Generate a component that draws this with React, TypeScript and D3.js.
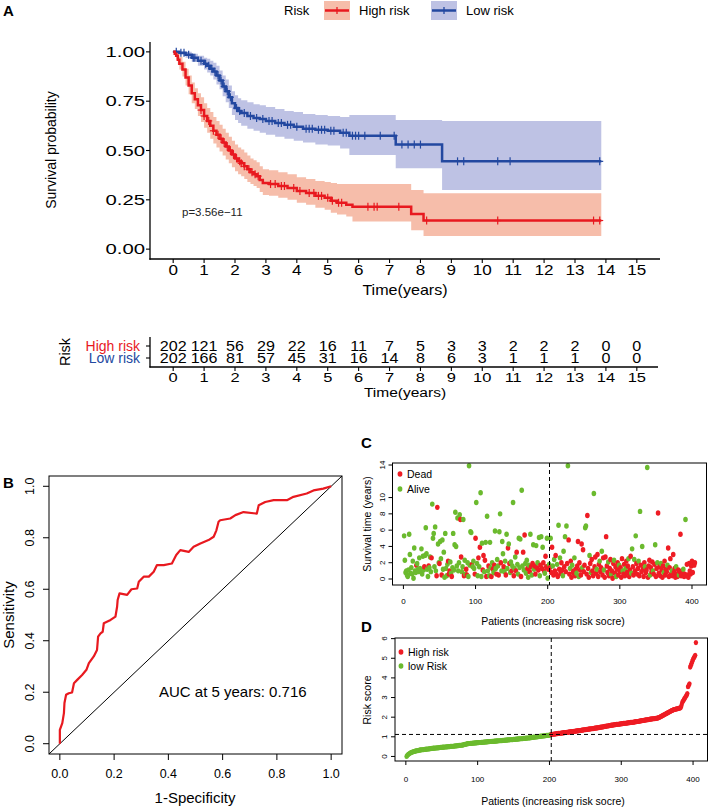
import React from 'react';
import * as d3 from 'd3';

const FONT = "'Liberation Sans', Arial, Helvetica, sans-serif";

// ---------- Panel A: Kaplan-Meier ----------
const yearTicks = [0, 1, 2, 3, 4, 5, 6, 7, 8, 9, 10, 11, 12, 13, 14, 15];
const survTicks = [0, 0.25, 0.5, 0.75, 1];
const survTickLabels = ['0.00', '0.25', '0.50', '0.75', '1.00'];

const highTime = [0, 0.05, 0.1, 0.15, 0.2, 0.3, 0.4, 0.5, 0.6, 0.7, 0.8, 0.9, 1.0, 1.1, 1.2, 1.3, 1.4, 1.5, 1.6, 1.7, 1.8, 1.9, 2.0, 2.1, 2.2, 2.3, 2.4, 2.5, 2.6, 2.7, 2.8, 2.9, 3.1, 3.4, 3.7, 4.0, 4.3, 4.6, 4.9, 5.1, 5.3, 5.6, 5.8, 7.7, 8.1, 13.85];
const highSurv = [1, 0.99, 0.98, 0.96, 0.94, 0.91, 0.87, 0.83, 0.79, 0.76, 0.73, 0.705, 0.675, 0.65, 0.625, 0.6, 0.58, 0.56, 0.54, 0.52, 0.5, 0.48, 0.46, 0.445, 0.435, 0.42, 0.405, 0.39, 0.38, 0.37, 0.35, 0.335, 0.33, 0.32, 0.31, 0.295, 0.285, 0.27, 0.26, 0.245, 0.235, 0.225, 0.215, 0.178, 0.145, 0.145];
const highLower = [1, 0.975, 0.96, 0.935, 0.91, 0.875, 0.83, 0.785, 0.74, 0.71, 0.675, 0.645, 0.615, 0.59, 0.56, 0.535, 0.515, 0.495, 0.475, 0.455, 0.435, 0.415, 0.395, 0.38, 0.37, 0.355, 0.34, 0.33, 0.32, 0.31, 0.29, 0.275, 0.27, 0.26, 0.25, 0.235, 0.225, 0.21, 0.2, 0.185, 0.175, 0.165, 0.14, 0.096, 0.066, 0.066];
const highUpper = [1, 1, 1, 0.99, 0.975, 0.95, 0.915, 0.88, 0.845, 0.815, 0.79, 0.77, 0.74, 0.715, 0.695, 0.67, 0.65, 0.63, 0.61, 0.59, 0.57, 0.55, 0.53, 0.515, 0.505, 0.49, 0.475, 0.46, 0.45, 0.44, 0.42, 0.405, 0.4, 0.39, 0.38, 0.365, 0.355, 0.345, 0.34, 0.335, 0.33, 0.33, 0.33, 0.3, 0.283, 0.283];
const highCensor = [0.9, 1.0, 1.15, 1.3, 1.45, 1.55, 1.65, 1.75, 1.85, 1.95, 2.05, 2.15, 2.2, 2.3, 2.45, 2.55, 2.65, 2.75, 3.15, 3.3, 3.5, 3.6, 3.9, 4.1, 4.4, 4.55, 4.7, 4.8, 5.0, 5.15, 5.35, 5.45, 6.3, 6.5, 6.6, 7.3, 8.2, 10.5, 13.6, 13.8];

const lowTime = [0, 0.2, 0.4, 0.6, 0.8, 1.0, 1.1, 1.2, 1.3, 1.4, 1.5, 1.6, 1.7, 1.8, 1.9, 2.0, 2.1, 2.2, 2.4, 2.6, 2.8, 3.0, 3.3, 3.6, 3.9, 4.2, 4.6, 5.0, 5.4, 5.7, 7.2, 8.7, 13.85];
const lowSurv = [1, 0.995, 0.985, 0.97, 0.955, 0.94, 0.93, 0.915, 0.9, 0.88, 0.855, 0.825, 0.8, 0.77, 0.74, 0.715, 0.7, 0.69, 0.675, 0.665, 0.66, 0.65, 0.64, 0.63, 0.62, 0.61, 0.605, 0.6, 0.59, 0.575, 0.53, 0.445, 0.445];
const lowLower = [1, 0.985, 0.97, 0.95, 0.93, 0.91, 0.895, 0.88, 0.86, 0.835, 0.81, 0.775, 0.745, 0.715, 0.68, 0.655, 0.64, 0.625, 0.61, 0.6, 0.59, 0.58, 0.57, 0.56, 0.55, 0.54, 0.53, 0.525, 0.51, 0.477, 0.41, 0.3, 0.3];
const lowUpper = [1, 1, 1, 0.99, 0.98, 0.97, 0.965, 0.955, 0.945, 0.93, 0.905, 0.88, 0.86, 0.83, 0.8, 0.78, 0.765, 0.755, 0.745, 0.735, 0.73, 0.72, 0.71, 0.7, 0.695, 0.685, 0.68, 0.675, 0.67, 0.68, 0.655, 0.65, 0.65];
const lowCensor = [0.1, 0.25, 0.35, 0.5, 0.65, 0.7, 0.9, 1.05, 1.15, 1.25, 1.35, 1.45, 1.55, 1.65, 1.75, 1.85, 2.05, 2.15, 2.3, 2.5, 2.7, 2.9, 3.1, 3.2, 3.4, 3.5, 3.7, 3.8, 4.0, 4.3, 4.4, 4.5, 4.7, 4.8, 4.9, 5.1, 5.2, 5.5, 5.6, 5.8, 5.9, 6.0, 6.2, 6.7, 7.15, 7.4, 7.6, 7.8, 8.0, 9.2, 9.4, 10.5, 10.9, 13.8];

const riskHigh = [202, 121, 56, 29, 22, 16, 11, 7, 5, 3, 3, 2, 2, 2, 0, 0];
const riskLow = [202, 166, 81, 57, 45, 31, 16, 14, 8, 6, 3, 1, 1, 1, 0, 0];

// ---------- Panel B: ROC ----------
const rocFpr = [0, 0, 0.009, 0.015, 0.017, 0.023, 0.033, 0.045, 0.052, 0.064, 0.082, 0.098, 0.107, 0.125, 0.137, 0.141, 0.15, 0.158, 0.162, 0.187, 0.205, 0.211, 0.213, 0.22, 0.248, 0.264, 0.285, 0.291, 0.309, 0.328, 0.346, 0.358, 0.383, 0.413, 0.429, 0.444, 0.475, 0.493, 0.518, 0.548, 0.567, 0.577, 0.585, 0.591, 0.628, 0.647, 0.677, 0.726, 0.733, 0.757, 0.788, 0.837, 0.861, 0.91, 0.935, 0.971, 1];
const rocTpr = [0, 0.054, 0.08, 0.119, 0.158, 0.19, 0.196, 0.199, 0.235, 0.248, 0.267, 0.287, 0.313, 0.339, 0.364, 0.416, 0.429, 0.435, 0.468, 0.481, 0.494, 0.532, 0.558, 0.584, 0.578, 0.6, 0.603, 0.629, 0.649, 0.649, 0.668, 0.694, 0.694, 0.7, 0.733, 0.752, 0.745, 0.765, 0.778, 0.791, 0.804, 0.829, 0.862, 0.868, 0.875, 0.888, 0.9, 0.894, 0.926, 0.939, 0.946, 0.946, 0.959, 0.972, 0.984, 0.991, 1];
const rocTicks = [0, 0.2, 0.4, 0.6, 0.8, 1.0];
const rocTickLabels = ['0.0', '0.2', '0.4', '0.6', '0.8', '1.0'];

// ---------- Panel C: survival time per patient ----------
const survTime = [
  5.3, 2.3, 0.8, 1.0, 0.5, 0.3, 1.1, 5.5, 3.0, 0.7,
  1.4, 0.6, 2.2, 0.1, 3.8, 1.0, 0.8, 1.7, 1.9, 1.2,
  0.9, 2.6, 1.3, 1.0, 3.7, 0.6, 2.8, 1.1, 1.5, 2.9,
  6.3, 3.1, 1.2, 0.3, 1.6, 1.4, 2.7, 0.9, 2.6, 9.2,
  5.0, 5.6, 1.5, 6.4, 1.0, 0.4, 8.8, 4.3, 2.0, 1.9,
  4.6, 2.5, 0.5, 4.8, 1.2, 3.3, 0.2, 5.6, 1.3, 0.4,
  1.8, 2.2, 0.6, 1.0, 2.1, 0.7, 0.3, 1.4, 5.6, 1.1,
  4.2, 8.2, 4.0, 1.6, 7.5, 1.0, 2.0, 7.9, 7.3, 2.7,
  0.9, 1.5, 7.3, 0.4, 2.3, 0.6, 1.2, 0.5, 2.0, 0.3,
  13.9, 1.7, 5.8, 5.7, 1.8, 1.5, 2.2, 1.3, 0.6, 5.0,
  9.4, 1.9, 0.4, 2.6, 1.5, 3.9, 10.6, 0.3, 4.4, 1.1,
  2.9, 0.9, 2.3, 4.5, 0.3, 7.7, 1.0, 1.6, 0.4, 4.5,
  1.4, 0.3, 2.0, 1.2, 0.8, 1.7, 5.9, 1.3, 0.6, 2.4,
  1.6, 0.5, 5.8, 8.0, 2.0, 1.0, 4.6, 3.1, 1.5, 0.9,
  2.2, 0.5, 5.5, 1.3, 3.8, 4.3, 1.9, 0.8, 2.1, 1.0,
  1.6, 9.4, 0.4, 1.3, 2.7, 1.0, 3.3, 1.8, 0.6, 5.0,
  1.4, 4.9, 0.3, 10.9, 1.6, 3.3, 1.1, 5.4, 1.9, 0.7,
  2.3, 1.3, 0.2, 1.7, 0.9, 5.5, 1.5, 0.5, 1.9, 4.2,
  1.2, 1.6, 0.6, 4.1, 1.4, 2.0, 1.1, 5.1, 0.4, 1.7,
  5.2, 1.3, 3.9, 2.0, 1.0, 0.7, 2.8, 1.5, 5.0, 0.1,
  1.2, 1.8,
  1.4, 5.0, 0.8, 3.9, 1.6, 0.5, 2.4, 1.0, 2.9, 0.6,
  1.8, 0.3, 6.6, 1.2, 2.6, 0.7, 2.0, 1.1, 0.4, 3.4,
  1.5, 5.2, 0.9, 6.5, 1.9, 13.9, 4.8, 0.6, 1.3, 2.2,
  0.2, 1.7, 0.8, 1.0, 2.6, 0.4, 1.2, 0.7, 1.6, 4.6,
  0.3, 2.0, 1.1, 0.5, 4.3, 1.4, 3.6, 0.9, 1.7, 6.3,
  6.5, 0.6, 7.8, 1.3, 0.2, 2.9, 1.9, 0.8, 2.4, 1.0,
  0.4, 10.5, 1.5, 2.7, 0.7, 1.2, 3.0, 0.3, 1.8, 2.2,
  0.9, 1.4, 3.4, 0.5, 2.6, 1.1, 0.2, 2.7, 5.2, 1.6,
  0.8, 2.1, 0.4, 1.3, 2.4, 0.6, 1.0, 0.1, 1.9, 2.3,
  0.7, 1.5, 0.3, 1.2, 2.0, 0.5, 1.7, 0.9, 1.4, 0.2,
  2.5, 1.0, 0.6, 1.8, 0.4, 1.3, 2.2, 0.8, 1.6, 2.5,
  0.3, 1.1, 2.8, 0.7, 3.7, 1.5, 0.5, 2.4, 1.0, 5.3,
  1.9, 0.6, 1.3, 2.2, 0.4, 8.3, 1.7, 0.9, 4.0, 1.2,
  0.3, 2.0, 1.5, 0.8, 1.1, 13.7, 0.2, 1.6, 2.3, 0.5,
  1.4, 0.9, 2.1, 1.0, 0.6, 1.8, 4.2, 0.3, 1.3, 2.0,
  8.1, 0.7, 1.5, 0.4, 1.9, 1.1, 0.2, 1.6, 0.8, 2.2,
  0.5, 1.2, 0.9, 1.7, 3.8, 0.3, 1.4, 2.5, 0.6, 1.0,
  0.4, 3.0, 0.8, 1.3, 0.2, 1.5, 0.6, 0.3, 1.1, 0.5,
  0.9, 5.5, 0.4, 1.0, 0.7, 1.2, 0.3, 0.6, 7.3, 0.4,
  1.8, 0.5, 0.2, 1.9, 1.0, 0.6, 1.6, 2.2, 0.8, 1.9,
  1.7, 2.0,
];
const deadStatus = [
  0, 0, 0, 0, 0, 0, 0, 0, 0, 0,
  0, 0, 0, 0, 0, 0, 0, 1, 0, 0,
  0, 0, 0, 0, 0, 0, 0, 0, 1, 0,
  0, 0, 0, 0, 1, 0, 0, 0, 1, 0,
  0, 0, 0, 0, 0, 1, 1, 0, 0, 1,
  0, 0, 1, 0, 0, 0, 0, 0, 0, 0,
  0, 1, 1, 1, 0, 0, 1, 0, 0, 0,
  0, 0, 0, 0, 0, 0, 0, 0, 1, 1,
  0, 0, 0, 1, 0, 0, 1, 1, 0, 0,
  0, 0, 0, 0, 1, 0, 0, 0, 1, 1,
  0, 0, 0, 1, 0, 1, 0, 0, 0, 1,
  1, 0, 1, 0, 1, 0, 0, 1, 0, 0,
  0, 1, 0, 1, 0, 1, 0, 0, 1, 0,
  0, 1, 0, 0, 1, 0, 0, 0, 1, 0,
  0, 1, 0, 0, 1, 0, 1, 0, 0, 1,
  0, 0, 1, 0, 0, 1, 1, 0, 0, 0,
  0, 0, 1, 0, 0, 1, 0, 1, 0, 0,
  0, 1, 0, 0, 1, 0, 1, 0, 1, 0,
  0, 1, 1, 0, 1, 0, 1, 0, 0, 1,
  0, 1, 0, 1, 1, 0, 1, 1, 0, 0,
  1, 0,
  1, 0, 1, 1, 0, 1, 0, 1, 1, 1,
  0, 1, 0, 1, 0, 1, 1, 1, 0, 0,
  1, 0, 1, 0, 1, 0, 1, 1, 0, 1,
  1, 0, 1, 1, 0, 1, 1, 0, 1, 1,
  0, 1, 1, 1, 1, 0, 1, 1, 1, 0,
  0, 1, 1, 1, 1, 0, 1, 0, 1, 1,
  1, 0, 1, 1, 1, 0, 1, 1, 1, 0,
  1, 1, 0, 1, 1, 0, 1, 1, 1, 1,
  1, 0, 1, 1, 1, 0, 1, 1, 1, 0,
  1, 1, 0, 1, 1, 1, 0, 1, 1, 1,
  1, 0, 1, 1, 1, 0, 1, 1, 1, 0,
  1, 1, 1, 0, 0, 1, 1, 0, 1, 0,
  1, 1, 1, 0, 1, 0, 1, 1, 0, 1,
  1, 1, 0, 1, 1, 0, 1, 1, 1, 0,
  1, 1, 1, 0, 1, 1, 0, 1, 1, 0,
  1, 1, 1, 1, 0, 1, 1, 1, 0, 1,
  1, 1, 1, 0, 1, 1, 1, 1, 1, 0,
  1, 1, 1, 1, 1, 0, 1, 1, 1, 0,
  1, 1, 1, 1, 1, 0, 1, 1, 0, 1,
  1, 1, 1, 1, 1, 1, 1, 1, 1, 1,
  1, 1,
];
const survTimeTicks = [0, 2, 4, 6, 8, 10, 14];
const patientTicks = [0, 100, 200, 300, 400];

// ---------- Panel D: sorted risk score ----------
const riskScore = [
  0.00, 0.05, 0.09, 0.12, 0.15, 0.17, 0.19, 0.21, 0.22, 0.24,
  0.25, 0.26, 0.27, 0.28, 0.29, 0.30, 0.30, 0.31, 0.32, 0.33,
  0.33, 0.34, 0.34, 0.35, 0.35, 0.36, 0.36, 0.37, 0.37, 0.38,
  0.38, 0.39, 0.39, 0.40, 0.40, 0.41, 0.41, 0.42, 0.42, 0.42,
  0.43, 0.43, 0.44, 0.44, 0.44, 0.45, 0.45, 0.46, 0.46, 0.46,
  0.47, 0.47, 0.47, 0.48, 0.48, 0.49, 0.49, 0.49, 0.50, 0.50,
  0.50, 0.51, 0.51, 0.52, 0.52, 0.52, 0.53, 0.53, 0.54, 0.54,
  0.54, 0.55, 0.55, 0.56, 0.56, 0.57, 0.57, 0.58, 0.58, 0.59,
  0.60, 0.61, 0.62, 0.63, 0.64, 0.65, 0.65, 0.66, 0.66, 0.67,
  0.67, 0.67, 0.68, 0.68, 0.68, 0.69, 0.69, 0.69, 0.70, 0.70,
  0.70, 0.71, 0.71, 0.71, 0.72, 0.72, 0.72, 0.73, 0.73, 0.73,
  0.74, 0.74, 0.74, 0.75, 0.75, 0.75, 0.76, 0.76, 0.76, 0.77,
  0.77, 0.77, 0.78, 0.78, 0.78, 0.79, 0.79, 0.79, 0.80, 0.80,
  0.80, 0.81, 0.81, 0.81, 0.82, 0.82, 0.82, 0.83, 0.83, 0.83,
  0.84, 0.84, 0.84, 0.85, 0.85, 0.85, 0.86, 0.86, 0.86, 0.87,
  0.87, 0.87, 0.88, 0.88, 0.88, 0.89, 0.89, 0.89, 0.90, 0.90,
  0.90, 0.91, 0.91, 0.92, 0.92, 0.92, 0.93, 0.93, 0.94, 0.94,
  0.94, 0.95, 0.95, 0.96, 0.96, 0.97, 0.97, 0.98, 0.98, 0.99,
  0.99, 1.00, 1.00, 1.01, 1.01, 1.02, 1.02, 1.03, 1.03, 1.04,
  1.04, 1.05, 1.05, 1.06, 1.06, 1.07, 1.07, 1.08, 1.08, 1.09,
  1.10, 1.11,
  1.12, 1.13, 1.13, 1.14, 1.14, 1.15, 1.15, 1.16,
  1.16, 1.17, 1.17, 1.18, 1.18, 1.19, 1.19, 1.20, 1.20, 1.21,
  1.21, 1.22, 1.22, 1.23, 1.23, 1.24, 1.24, 1.25, 1.25, 1.26,
  1.26, 1.27, 1.27, 1.28, 1.28, 1.29, 1.29, 1.30, 1.30, 1.31,
  1.31, 1.32, 1.32, 1.33, 1.34, 1.34, 1.35, 1.36, 1.36, 1.37,
  1.37, 1.38, 1.38, 1.39, 1.39, 1.40, 1.40, 1.41, 1.41, 1.42,
  1.42, 1.43, 1.44, 1.44, 1.45, 1.45, 1.46, 1.47, 1.47, 1.48,
  1.49, 1.49, 1.50, 1.51, 1.51, 1.52, 1.53, 1.53, 1.54, 1.55,
  1.55, 1.56, 1.57, 1.57, 1.58, 1.59, 1.59, 1.60, 1.61, 1.61,
  1.62, 1.62, 1.63, 1.63, 1.64, 1.64, 1.65, 1.65, 1.66, 1.66,
  1.67, 1.67, 1.68, 1.68, 1.69, 1.69, 1.70, 1.70, 1.71, 1.71,
  1.72, 1.72, 1.73, 1.73, 1.74, 1.74, 1.75, 1.75, 1.76, 1.77,
  1.77, 1.78, 1.78, 1.79, 1.80, 1.80, 1.81, 1.82, 1.82, 1.83,
  1.84, 1.84, 1.85, 1.86, 1.86, 1.87, 1.88, 1.88, 1.89, 1.90,
  1.90, 1.91, 1.91, 1.92, 1.92, 1.93, 1.93, 1.94, 1.94, 1.95,
  1.96, 1.97, 1.99, 2.01, 2.03, 2.05, 2.07, 2.09, 2.11, 2.13,
  2.15, 2.17, 2.19, 2.21, 2.23, 2.25, 2.27, 2.29, 2.31, 2.33,
  2.35, 2.36, 2.38, 2.39, 2.40, 2.41, 2.42, 2.43, 2.44, 2.45,
  2.46, 2.47, 2.50, 2.62, 2.75, 2.82, 2.88, 2.94, 3.00, 3.06,
  3.12, 3.20, 3.55, 3.62, 3.70, 4.55, 4.65, 4.75, 4.85, 4.95,
  5.02, 5.08, 5.15, 5.80,
];
const riskCutoff = 1.12;
const lowRiskCount = 202;
const riskScoreTicks = [0, 1, 2, 3, 4, 5, 6];

// ---------- colors ----------
const RED = '#E8191F';
const BLUE = '#2348A0';
const RED_BAND = '#EE7C55';
const BLUE_BAND = '#7E86C9';
const DOT_RED = '#EE1C24';
const DOT_GREEN = '#6BBA2E';

function stepAt(times: number[], vals: number[], t: number) {
  let v = vals[0];
  for (let i = 0; i < times.length; i++) if (times[i] <= t) v = vals[i];
  return v;
}

function PanelA() {
  const x = d3.scaleLinear().domain([-0.75, 15.75]).range([150, 660]);
  const y = d3.scaleLinear().domain([-0.05, 1.05]).range([259, 42]);
  const line = d3.line<[number, number]>().x(d => x(d[0])).y(d => y(d[1])).curve(d3.curveStepAfter);
  const area = d3.area<[number, number, number]>().x(d => x(d[0])).y0(d => y(d[1])).y1(d => y(d[2])).curve(d3.curveStepAfter);
  const groups = [
    { t: lowTime, s: lowSurv, lo: lowLower, up: lowUpper, cens: lowCensor, color: BLUE, band: BLUE_BAND },
    { t: highTime, s: highSurv, lo: highLower, up: highUpper, cens: highCensor, color: RED, band: RED_BAND },
  ];
  return (
    <g fontFamily={FONT}>
      <text x={3} y={16} fontSize={15} fontWeight="bold">A</text>
      {/* legend */}
      <text x={284} y={15} fontSize={13}>Risk</text>
      {[{ x0: 324, label: 'High risk', c: RED, b: RED_BAND }, { x0: 431, label: 'Low risk', c: BLUE, b: BLUE_BAND }].map((l, i) => (
        <g key={i}>
          <rect x={l.x0} y={1} width={26} height={19} fill={l.b} fillOpacity={0.5} />
          <line x1={l.x0 + 1} x2={l.x0 + 25} y1={10.5} y2={10.5} stroke={l.c} strokeWidth={2.5} />
          <line x1={l.x0 + 13} x2={l.x0 + 13} y1={7} y2={14} stroke={l.c} strokeWidth={1.3} />
          <text x={l.x0 + 35} y={15} fontSize={13}>{l.label}</text>
        </g>
      ))}
      {groups.map((g, gi) => (
        <path key={'b' + gi} d={area(g.t.map((t, i) => [t, g.lo[i], g.up[i]] as [number, number, number])) || ''} fill={g.band} fillOpacity={0.5} />
      ))}
      {groups.map((g, gi) => (
        <g key={'l' + gi}>
          <path d={line(g.t.map((t, i) => [t, g.s[i]] as [number, number])) || ''} fill="none" stroke={g.color} strokeWidth={2.5} />
          {g.cens.map((c, i) => {
            const sv = stepAt(g.t, g.s, c);
            return (
              <g key={i} stroke={g.color} strokeWidth={1.2}>
                <line x1={x(c)} x2={x(c)} y1={y(sv) - 4} y2={y(sv) + 4} />
                <line x1={x(c) - 3.5} x2={x(c) + 3.5} y1={y(sv)} y2={y(sv)} />
              </g>
            );
          })}
        </g>
      ))}
      <text x={182} y={216} fontSize={11.5} fill="#222">p=3.56e−11</text>
      {/* axes */}
      <line x1={150} x2={150} y1={42} y2={259.7} stroke="#000" strokeWidth={1.3} />
      <line x1={149.4} x2={660} y1={259} y2={259} stroke="#000" strokeWidth={1.3} />
      {survTicks.map((v, i) => (
        <g key={i}>
          <line x1={146} x2={150} y1={y(v)} y2={y(v)} stroke="#000" strokeWidth={1.1} />
          <text transform={`translate(145,${y(v)}) scale(1.45,1)`} dy="0.36em" textAnchor="end" fontSize={14}>{survTickLabels[i]}</text>
        </g>
      ))}
      {yearTicks.map(v => (
        <g key={v}>
          <line x1={x(v)} x2={x(v)} y1={259} y2={263} stroke="#000" strokeWidth={1.1} />
          <text transform={`translate(${x(v)},275) scale(1.22,1)`} textAnchor="middle" fontSize={14}>{v}</text>
        </g>
      ))}
      <text transform="translate(405,295) scale(1.15,1)" textAnchor="middle" fontSize={14}>Time(years)</text>
      <text transform="translate(56,150) rotate(-90)" textAnchor="middle" fontSize={14}>Survival probability</text>

      {/* risk table */}
      <text transform="translate(70,352) rotate(-90)" textAnchor="middle" fontSize={14.5}>Risk</text>
      <text x={140} y={350.5} textAnchor="end" fontSize={14} fill={RED}>High risk</text>
      <text x={140} y={363} textAnchor="end" fontSize={14} fill={BLUE}>Low risk</text>
      <line x1={150} x2={150} y1={337} y2={367.6} stroke="#000" strokeWidth={1.3} />
      <line x1={146} x2={150} y1={346} y2={346} stroke="#000" strokeWidth={1.1} />
      <line x1={146} x2={150} y1={358} y2={358} stroke="#000" strokeWidth={1.1} />
      <line x1={149.4} x2={658} y1={367} y2={367} stroke="#000" strokeWidth={1.3} />
      {yearTicks.map((v, i) => (
        <g key={'t' + v}>
          <text transform={`translate(${x(v)},350.5) scale(1.15,1)`} textAnchor="middle" fontSize={14}>{riskHigh[i]}</text>
          <text transform={`translate(${x(v)},363) scale(1.15,1)`} textAnchor="middle" fontSize={14}>{riskLow[i]}</text>
          <line x1={x(v)} x2={x(v)} y1={367} y2={371} stroke="#000" strokeWidth={1.1} />
          <text transform={`translate(${x(v)},381.5) scale(1.22,1)`} textAnchor="middle" fontSize={13.5}>{v}</text>
        </g>
      ))}
      <text transform="translate(405,397) scale(1.15,1)" textAnchor="middle" fontSize={13.5}>Time(years)</text>
    </g>
  );
}

function PanelB() {
  const x = d3.scaleLinear().domain([-0.04, 1.04]).range([49, 342]);
  const y = d3.scaleLinear().domain([-0.04, 1.04]).range([754, 476]);
  const line = d3.line<number>().x(i => x(rocFpr[i])).y(i => y(rocTpr[i]));
  const idx = rocFpr.map((_, i) => i);
  return (
    <g fontFamily={FONT}>
      <text x={3} y={488} fontSize={15} fontWeight="bold">B</text>
      <line x1={x(-0.04)} y1={y(-0.04)} x2={x(1.04)} y2={y(1.04)} stroke="#000" strokeWidth={1} />
      <path d={line(idx) || ''} fill="none" stroke={RED} strokeWidth={2.2} strokeLinejoin="round" />
      <rect x={49} y={476} width={293} height={278} fill="none" stroke="#000" strokeWidth={1} />
      {rocTicks.map((v, i) => (
        <g key={i}>
          <line x1={x(v)} x2={x(v)} y1={754} y2={760} stroke="#000" />
          <text x={x(v)} y={778} textAnchor="middle" fontSize={12.5}>{rocTickLabels[i]}</text>
          <line x1={43} x2={49} y1={y(v)} y2={y(v)} stroke="#000" />
          <text transform={`translate(34,${y(v)}) rotate(-90)`} textAnchor="middle" fontSize={12.5}>{rocTickLabels[i]}</text>
        </g>
      ))}
      <text x={195} y={803} textAnchor="middle" fontSize={15}>1-Specificity</text>
      <text transform="translate(14,615) rotate(-90)" textAnchor="middle" fontSize={15}>Sensitivity</text>
      <text x={159} y={697} fontSize={15}>AUC at 5 years: 0.716</text>
    </g>
  );
}

function PanelC() {
  const x = d3.scaleLinear().domain([-15.12, 420.12]).range([392.5, 706.5]);
  const y = d3.scaleLinear().domain([0, 14]).range([579, 465]);
  const top = 463, bottom = 585;
  return (
    <g fontFamily={FONT}>
      <text x={361} y={448} fontSize={15} fontWeight="bold">C</text>
      {survTime.map((t, i) => (
        <ellipse key={i} cx={x(i + 1)} cy={y(t)} rx={2.3} ry={2.7} fill={deadStatus[i] ? DOT_RED : DOT_GREEN} />
      ))}
      <line x1={x(lowRiskCount + 0.5)} x2={x(lowRiskCount + 0.5)} y1={top} y2={bottom} stroke="#000" strokeWidth={1} strokeDasharray="4,3" />
      <rect x={392.5} y={top} width={314} height={bottom - top} fill="none" stroke="#000" strokeWidth={1} />
      {patientTicks.map(v => (
        <g key={v}>
          <line x1={x(v)} x2={x(v)} y1={bottom} y2={bottom + 4} stroke="#000" />
          <text x={x(v)} y={604} textAnchor="middle" fontSize={8}>{v}</text>
        </g>
      ))}
      {survTimeTicks.map(v => (
        <g key={v}>
          <line x1={388.5} x2={392.5} y1={y(v)} y2={y(v)} stroke="#000" />
          <text transform={`translate(385,${y(v)}) rotate(-90)`} textAnchor="middle" fontSize={8}>{v}</text>
        </g>
      ))}
      <ellipse cx={400} cy={474} rx={2.4} ry={2.8} fill={DOT_RED} />
      <text x={407} y={478} fontSize={10.5}>Dead</text>
      <ellipse cx={400} cy={489} rx={2.4} ry={2.8} fill={DOT_GREEN} />
      <text x={407} y={493} fontSize={10.5}>Alive</text>
      <text x={553} y={625} textAnchor="middle" fontSize={10.5}>Patients (increasing risk socre)</text>
      <text transform="translate(371,524) rotate(-90)" textAnchor="middle" fontSize={10.5}>Survival time (years)</text>
    </g>
  );
}

function PanelD() {
  const x = d3.scaleLinear().domain([-15.12, 420.12]).range([395, 707.5]);
  const y = d3.scaleLinear().domain([-0.232, 6.032]).range([761, 638]);
  const top = 638, bottom = 761;
  return (
    <g fontFamily={FONT}>
      <text x={361} y={632} fontSize={15} fontWeight="bold">D</text>
      {riskScore.map((r, i) => (
        <ellipse key={i} cx={x(i + 1)} cy={y(r)} rx={2.2} ry={2.6} fill={i < lowRiskCount ? DOT_GREEN : DOT_RED} />
      ))}
      <line x1={x(lowRiskCount + 0.5)} x2={x(lowRiskCount + 0.5)} y1={top} y2={bottom} stroke="#000" strokeWidth={1} strokeDasharray="4,3" />
      <line x1={395} x2={707.5} y1={y(riskCutoff)} y2={y(riskCutoff)} stroke="#000" strokeWidth={1} strokeDasharray="4,3" />
      <rect x={395} y={top} width={312.5} height={bottom - top} fill="none" stroke="#000" strokeWidth={1} />
      {patientTicks.map(v => (
        <g key={v}>
          <line x1={x(v)} x2={x(v)} y1={bottom} y2={bottom + 4} stroke="#000" />
          <text x={x(v)} y={782} textAnchor="middle" fontSize={8}>{v}</text>
        </g>
      ))}
      {riskScoreTicks.map(v => (
        <g key={v}>
          <line x1={391} x2={395} y1={y(v)} y2={y(v)} stroke="#000" />
          <text transform={`translate(387,${y(v)}) rotate(-90)`} textAnchor="middle" fontSize={8}>{v}</text>
        </g>
      ))}
      <ellipse cx={401} cy={652} rx={2.4} ry={2.8} fill={DOT_RED} />
      <text x={408} y={656} fontSize={10.5}>High risk</text>
      <ellipse cx={401} cy={666} rx={2.4} ry={2.8} fill={DOT_GREEN} />
      <text x={408} y={670} fontSize={10.5}>low Risk</text>
      <text x={553} y={805} textAnchor="middle" fontSize={10.5}>Patients (increasing risk socre)</text>
      <text transform="translate(371,700) rotate(-90)" textAnchor="middle" fontSize={10.5}>Risk score</text>
    </g>
  );
}

export default function App() {
  return (
    <svg width={709} height={807} viewBox="0 0 709 807" style={{ position: 'absolute', left: 0, top: 0, background: '#fff' }}>
      <rect width={709} height={807} fill="#fff" />
      <PanelA />
      <PanelB />
      <PanelC />
      <PanelD />
    </svg>
  );
}
